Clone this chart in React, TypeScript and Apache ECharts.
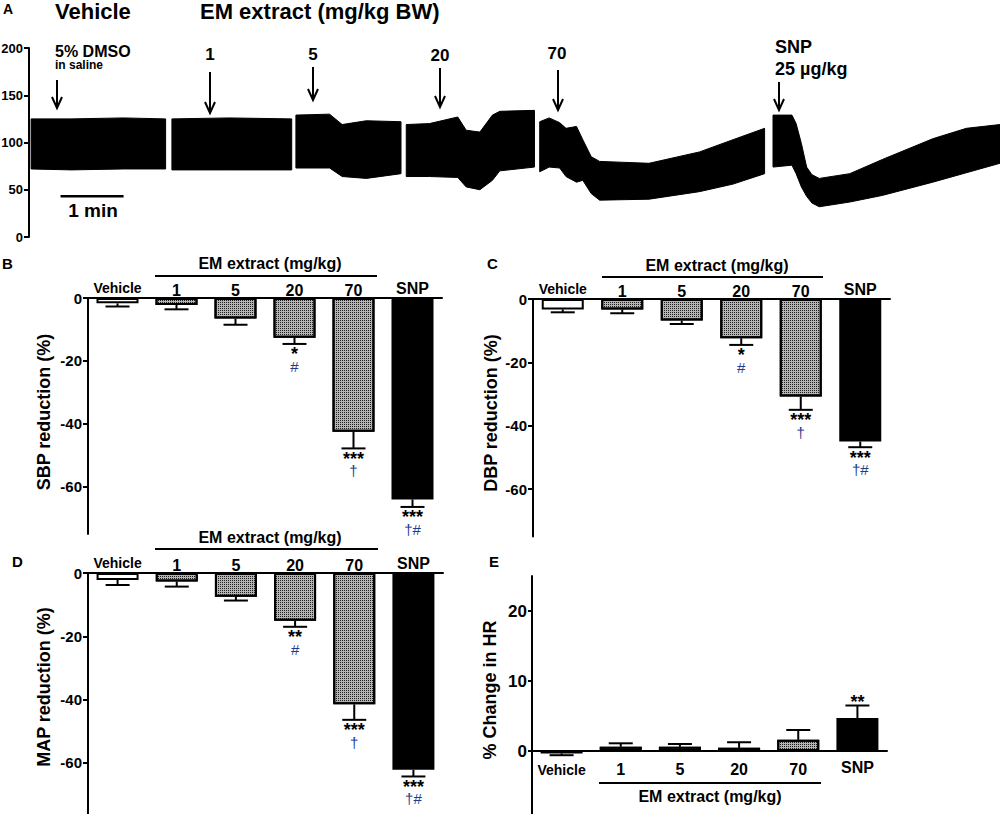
import React, { useEffect, useRef } from "react";
import * as echarts from "echarts";

// ---------- DATA ----------
const categories = ["Vehicle", "1", "5", "20", "70", "SNP"];

const sbpMean = [-1.7, -2.2, -6.5, -12.6, -42.5, -64.0];
const sbpSem = [1.0, 1.4, 2.0, 2.0, 5.3, 2.4];
const dbpMean = [-3.3, -3.3, -6.8, -12.4, -30.8, -45.0];
const dbpSem = [0.9, 1.2, 1.1, 2.1, 4.2, 1.8];
const mapMean = [-2.2, -2.7, -7.5, -15.1, -41.5, -62.2];
const mapSem = [1.6, 1.6, 1.2, 1.9, 4.9, 2.1];
const hrMean = [-0.35, 0.6, 0.6, 0.45, 1.6, 4.7];
const hrSem = [0.25, 0.5, 0.4, 0.8, 1.4, 1.8];

const sigSBP = ["", "", "", "*", "***", "***"];
const symSBP = ["", "", "", "#", "†", "†#"];
const sigDBP = ["", "", "", "*", "***", "***"];
const symDBP = ["", "", "", "#", "†", "†#"];
const sigMAP = ["", "", "", "**", "***", "***"];
const symMAP = ["", "", "", "#", "†", "†#"];
const sigHR = ["", "", "", "", "", "**"];
const symHR = ["", "", "", "", "", ""];

const reductionTicks = [0, -20, -40, -60];
const hrTicks = [0, 10, 20];
const pressureTicks = [0, 50, 100, 150, 200];

// Blood pressure trace (panel A): time in s, upper (systolic) and lower (diastolic) envelope, mmHg
const seg1Time = [2, 40, 90, 130];
const seg1Upper = [125, 125, 126, 125];
const seg1Lower = [72, 71, 72, 72];
const seg2Time = [136, 190, 250];
const seg2Upper = [125, 126, 125];
const seg2Lower = [71, 71, 71];
const seg3Time = [254, 286, 298, 321, 354];
const seg3Upper = [129, 130, 119, 123, 122];
const seg3Lower = [73, 73, 64, 62, 67];
const seg4Time = [359, 381, 408, 416, 429, 441, 448, 481];
const seg4Upper = [119, 120, 127, 113, 111, 129, 133, 134];
const seg4Lower = [64, 64, 63, 53, 50, 60, 70, 74];
const seg5Time = [486, 495, 505, 511, 521, 527, 535, 543, 590, 638, 670, 700];
const seg5Upper = [122, 126, 121, 115, 117, 103, 85, 80, 78, 90, 103, 115];
const seg5Lower = [69, 74, 73, 64, 58, 60, 46, 39, 40, 48, 56, 67];
const seg6Time = [708, 726, 730, 735, 740, 745, 752, 781, 812, 860, 892, 924];
const seg6Upper = [129, 129, 120, 99, 74, 66, 62, 67, 82, 104, 115, 119];
const seg6Lower = [74, 76, 67, 53, 43, 36, 32, 37, 44, 58, 68, 78];

const scaleBarTime = [30, 90];
const scaleBarLevel = 43;

// ---------- STYLE HELPERS ----------
const FONT = '"Liberation Sans", Arial, Helvetica, sans-serif';
const NAVY = "#233b8c";

const segments = [
  { t: seg1Time, up: seg1Upper, lo: seg1Lower },
  { t: seg2Time, up: seg2Upper, lo: seg2Lower },
  { t: seg3Time, up: seg3Upper, lo: seg3Lower },
  { t: seg4Time, up: seg4Upper, lo: seg4Lower },
  { t: seg5Time, up: seg5Upper, lo: seg5Lower },
  { t: seg6Time, up: seg6Upper, lo: seg6Lower },
];

const emDecal = {
  symbol: "rect",
  symbolSize: 1,
  color: "#1e1e1e",
  dashArrayX: [1, 1],
  dashArrayY: [1, 1],
  rotation: 0,
};

function txt(
  text: string,
  x: number,
  y: number,
  size: number,
  opts: { align?: string; rot?: number; weight?: string; color?: string } = {}
) {
  const align = opts.align || "center";
  return {
    type: "text",
    x,
    y,
    rotation: opts.rot || 0,
    z: 100,
    style: {
      text,
      fill: opts.color || "#000",
      font: `${opts.weight || "bold"} ${size}px ${FONT}`,
      textAlign: align,
      textVerticalAlign: "middle",
      align,
      verticalAlign: "middle",
    },
  };
}

function hline(x1: number, x2: number, y: number, w = 2) {
  return {
    type: "line",
    z: 100,
    shape: { x1, y1: y, x2, y2: y },
    style: { stroke: "#000", lineWidth: w },
  };
}

function arrow(x: number, y1: number, y2: number) {
  return [
    { type: "line", z: 100, shape: { x1: x, y1, x2: x, y2 }, style: { stroke: "#000", lineWidth: 2 } },
    {
      type: "polyline",
      z: 100,
      shape: { points: [[x - 5, y2 - 11], [x, y2], [x + 5, y2 - 11]] },
      style: { stroke: "#000", lineWidth: 2, fill: null },
    },
  ];
}

function barItems(means: number[]) {
  return means.map((v, i) => ({
    value: v,
    itemStyle:
      i === 0
        ? { color: "#ffffff" }
        : i === 5
        ? { color: "#000000" }
        : { color: "#b4b4b4", decal: emDecal },
  }));
}

function annotText(text: string, x: number, y: number, font: string, fill: string) {
  return {
    type: "text",
    x,
    y,
    style: {
      text,
      fill,
      font,
      lineHeight: 8,
      textAlign: "center",
      textVerticalAlign: "middle",
      align: "center",
      verticalAlign: "middle",
    },
  };
}

function makeErr(sig: string[], sym: string[]) {
  return (params: any, api: any) => {
    const i = params.dataIndex;
    const cat = api.value(0);
    const m = api.value(1);
    const e = api.value(2);
    const dir = m >= 0 ? 1 : -1;
    const p0 = api.coord([cat, m]);
    const p1 = api.coord([cat, m + dir * e]);
    const half = 12;
    const children: any[] = [
      { type: "line", shape: { x1: p0[0], y1: p0[1], x2: p1[0], y2: p1[1] }, style: { stroke: "#000", lineWidth: 2 } },
      { type: "line", shape: { x1: p1[0] - half, y1: p1[1], x2: p1[0] + half, y2: p1[1] }, style: { stroke: "#000", lineWidth: 2 } },
    ];
    if (sig[i]) {
      const y = dir < 0 ? p1[1] + 10.5 : p1[1] - 4;
      children.push(annotText(sig[i], p1[0], y, `bold 18px ${FONT}`, "#000"));
    }
    if (sym[i]) {
      children.push(annotText(sym[i], p1[0], p1[1] + 22.5, `normal 15px ${FONT}`, NAVY));
    }
    return { type: "group", children };
  };
}

function traceRender(params: any, api: any) {
  const seg = segments[params.dataIndex];
  const upper = seg.t.map((t, j) => api.coord([t, seg.up[j]]));
  const lower = seg.t.map((t, j) => api.coord([t, seg.lo[j]])).reverse();
  return {
    type: "polygon",
    shape: { points: upper.concat(lower) },
    style: { fill: "#000", stroke: "#000", lineWidth: 1 },
  };
}

const catLabelRich = (top: boolean) => ({
  v: { fontFamily: FONT, fontSize: 14, fontWeight: "bold", color: "#000", padding: top ? [0, 0, 3, 0] : [4, 0, 0, 0] },
  n: { fontFamily: FONT, fontSize: 16, fontWeight: "bold", color: "#000", padding: top ? [0, 0, 0, 0] : [2, 0, 0, 0] },
  s: { fontFamily: FONT, fontSize: 16, fontWeight: "bold", color: "#000", padding: top ? [0, 0, 2, 0] : [0, 0, 0, 0] },
});

const catFormatter = (v: string) =>
  v === "Vehicle" ? "{v|Vehicle}" : v === "SNP" ? "{s|SNP}" : "{n|" + v + "}";

function catAxis(gridIndex: number, top: boolean, offset = 0) {
  return {
    type: "category",
    gridIndex,
    data: categories,
    position: top ? "top" : "bottom",
    offset,
    axisLine: { show: true, onZero: false, lineStyle: { color: "#000", width: 2 } },
    axisTick: { show: false },
    axisLabel: {
      interval: 0,
      margin: top ? 0 : 8,
      formatter: catFormatter,
      rich: catLabelRich(top),
    },
    splitLine: { show: false },
  };
}

function valAxis(gridIndex: number, min: number, max: number, ticks: number[], fontSize: number, margin: number, tickLen: number) {
  return {
    type: "value",
    gridIndex,
    min,
    max,
    axisLine: { show: true, lineStyle: { color: "#000", width: 2 } },
    axisTick: { show: true, length: tickLen, customValues: ticks, lineStyle: { color: "#000", width: 2 } },
    axisLabel: {
      customValues: ticks,
      color: "#000",
      fontFamily: FONT,
      fontWeight: "bold",
      fontSize,
      margin,
    },
    splitLine: { show: false },
  };
}

function buildOption() {
  const graphics: any[] = [
    // Panel A texts
    txt("A", 3, 9, 14, { align: "left" }),
    txt("Vehicle", 55, 11, 22, { align: "left" }),
    txt("EM extract (mg/kg BW)", 200, 11, 22, { align: "left" }),
    txt("5% DMSO", 55, 51, 16, { align: "left" }),
    txt("in saline", 55, 65, 12, { align: "left" }),
    txt("1", 210, 54, 17),
    txt("5", 313, 54, 17),
    txt("20", 440, 55, 17),
    txt("70", 557, 53, 17),
    txt("SNP", 775, 47, 18, { align: "left" }),
    txt("25 µg/kg", 775, 69, 18, { align: "left" }),
    txt("1 min", 93, 210, 19),
    ...arrow(57, 80, 108),
    ...arrow(210, 72, 113),
    ...arrow(313, 67, 100),
    ...arrow(440, 68, 107),
    ...arrow(558, 70, 110),
    ...arrow(779, 82, 110),
    // Panel labels
    txt("B", 2, 263, 15, { align: "left" }),
    txt("C", 487, 263, 15, { align: "left" }),
    txt("D", 12, 561, 15, { align: "left" }),
    txt("E", 489, 561, 15, { align: "left" }),
    // Group titles
    txt("EM extract (mg/kg)", 270, 263, 16),
    hline(155, 377, 276),
    txt("EM extract (mg/kg)", 717, 265, 16),
    hline(602, 823, 277),
    txt("EM extract (mg/kg)", 270, 537, 16),
    hline(155, 378, 549),
    txt("EM extract (mg/kg)", 710, 796, 16),
    hline(599, 821, 783),
    // Y axis names
    txt("SBP reduction (%)", 44, 412, 18, { rot: Math.PI / 2 }),
    txt("DBP reduction (%)", 491, 413, 18, { rot: Math.PI / 2 }),
    txt("MAP reduction (%)", 44, 687, 18, { rot: Math.PI / 2 }),
    txt("% Change in HR", 490, 690, 18, { rot: Math.PI / 2 }),
  ];

  const g = { outerBoundsMode: "none", containLabel: false };

  return {
    animation: false,
    backgroundColor: "#ffffff",
    textStyle: { fontFamily: FONT },
    grid: [
      { ...g, left: 29, top: 48, width: 971, height: 189 },
      { ...g, left: 88, top: 298, width: 354, height: 236 },
      { ...g, left: 533, top: 299, width: 357, height: 237.5 },
      { ...g, left: 88, top: 573, width: 355, height: 240.5 },
      { ...g, left: 532, top: 576, width: 355, height: 245 },
    ],
    xAxis: [
      { type: "value", gridIndex: 0, min: 0, max: 924, show: false },
      catAxis(1, true),
      catAxis(2, true),
      catAxis(3, true),
      // E: the category axis sits on the zero line (10 units * 7 px above the grid bottom)
      catAxis(4, false, -70),
    ],
    yAxis: [
      valAxis(0, 0, 200, pressureTicks, 13, 6, 5),
      valAxis(1, -75, 0, reductionTicks, 15, 6, 5),
      valAxis(2, -75, 0, reductionTicks, 15, 6, 5),
      valAxis(3, -76, 0, reductionTicks, 15, 6, 5),
      valAxis(4, -10, 25, hrTicks, 17, 5, 4),
    ],
    graphic: { elements: graphics },
    series: [
      {
        type: "custom",
        xAxisIndex: 0,
        yAxisIndex: 0,
        renderItem: traceRender,
        data: segments.map((s, i) => [s.t[0], 100, i]),
        z: 5,
      },
      {
        type: "line",
        xAxisIndex: 0,
        yAxisIndex: 0,
        symbol: "none",
        lineStyle: { color: "#000", width: 2.5 },
        data: scaleBarTime.map((t) => [t, scaleBarLevel]),
      },
      ...[
        [sbpMean, 1],
        [dbpMean, 2],
        [mapMean, 3],
        [hrMean, 4],
      ].map(([means, k]: any) => ({
        type: "bar",
        xAxisIndex: k,
        yAxisIndex: k,
        barWidth: 42,
        itemStyle: { borderColor: "#000", borderWidth: 2 },
        data: barItems(means),
        z: 3,
      })),
      ...[
        [sbpMean, sbpSem, sigSBP, symSBP, 1],
        [dbpMean, dbpSem, sigDBP, symDBP, 2],
        [mapMean, mapSem, sigMAP, symMAP, 3],
        [hrMean, hrSem, sigHR, symHR, 4],
      ].map(([means, sems, sig, sym, k]: any) => ({
        type: "custom",
        xAxisIndex: k,
        yAxisIndex: k,
        renderItem: makeErr(sig, sym),
        data: means.map((m: number, i: number) => [i, m, sems[i]]),
        z: 10,
      })),
    ],
  };
}

export default function App() {
  const ref = useRef<HTMLDivElement>(null);
  useEffect(() => {
    if (!ref.current) return;
    const chart = echarts.init(ref.current, null, { renderer: "svg" });
    chart.setOption(buildOption() as any);
    return () => chart.dispose();
  }, []);
  return (
    <div
      ref={ref}
      style={{ position: "absolute", left: 0, top: 0, width: 1000, height: 814, background: "#fff" }}
    />
  );
}
